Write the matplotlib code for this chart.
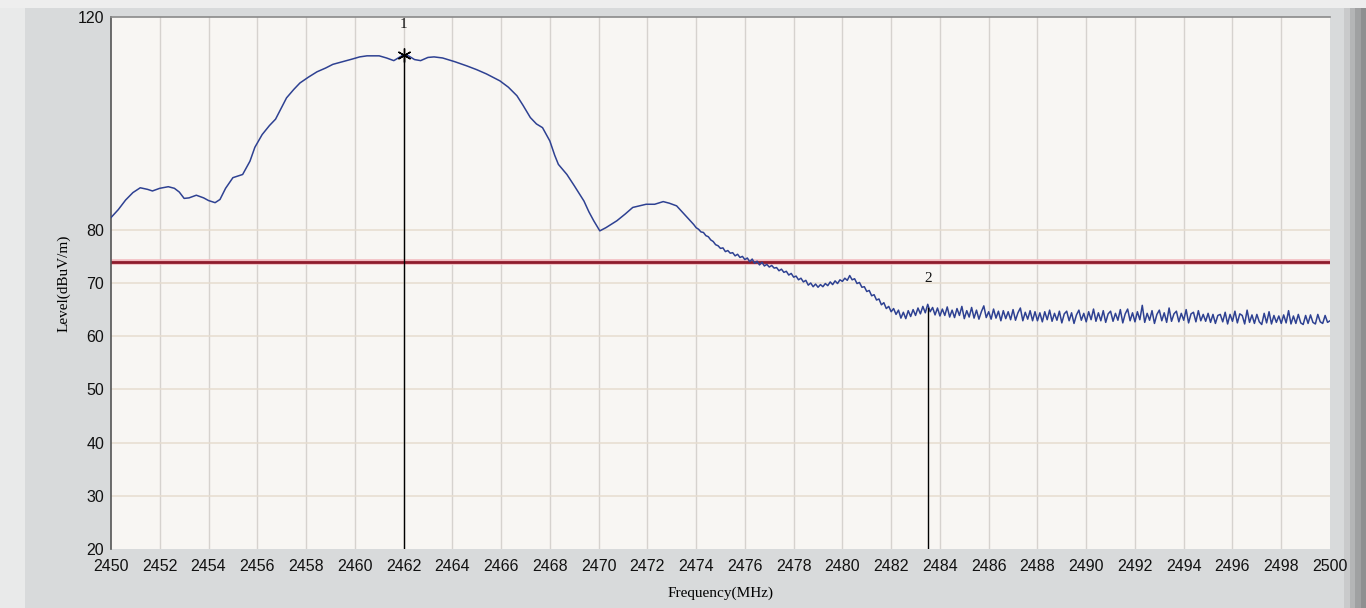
import numpy as np
import matplotlib
matplotlib.use("Agg")
import matplotlib.pyplot as plt
from matplotlib.patches import Rectangle

# ---------------- data ----------------
# smooth part of the trace (MHz, dBuV/m)
smooth_freq = [2450.0, 2450.3, 2450.6, 2450.9, 2451.2, 2451.5, 2451.7, 2452.0, 2452.35, 2452.6,
               2452.8, 2453.0, 2453.2, 2453.5, 2453.8, 2454.0, 2454.27, 2454.47, 2454.7, 2455.0,
               2455.4, 2455.7, 2455.9, 2456.2, 2456.5, 2456.75, 2457.0, 2457.2, 2457.5, 2457.75,
               2458.1, 2458.45, 2458.8, 2459.1, 2459.5, 2459.9, 2460.2, 2460.5, 2461.0, 2461.3,
               2461.6, 2461.85, 2462.0, 2462.2, 2462.45, 2462.7, 2463.0, 2463.25, 2463.6, 2464.1,
               2464.6, 2465.0, 2465.4, 2465.95, 2466.3, 2466.65, 2466.9, 2467.2, 2467.45, 2467.7,
               2468.0, 2468.2, 2468.35, 2468.7, 2469.0, 2469.4, 2469.6, 2469.8, 2470.05, 2470.3,
               2470.75, 2471.1, 2471.4, 2471.95, 2472.3, 2472.65, 2472.9, 2473.2, 2473.5, 2473.9]
smooth_level = [82.3, 83.8, 85.6, 87.0, 87.9, 87.6, 87.3, 87.8, 88.1, 87.8,
                87.1, 85.9, 86.0, 86.5, 86.0, 85.5, 85.1, 85.7, 87.8, 89.8,
                90.4, 92.9, 95.5, 97.9, 99.6, 100.8, 103.0, 104.8, 106.4, 107.6,
                108.7, 109.7, 110.4, 111.1, 111.6, 112.1, 112.5, 112.7, 112.7, 112.3,
                111.8, 112.5, 112.9, 112.7, 112.0, 111.8, 112.4, 112.5, 112.3, 111.6,
                110.8, 110.1, 109.3, 108.0, 106.8, 105.2, 103.4, 101.1, 99.9, 99.2,
                96.7, 94.0, 92.3, 90.4, 88.3, 85.4, 83.4, 81.7, 79.8, 80.4,
                81.7, 83.0, 84.2, 84.8, 84.8, 85.3, 85.0, 84.5, 83.0, 81.0]

# noisy tail, one reading every 0.1 MHz from 2474.0 to 2500.0
tail_start_mhz = 2474.0
tail_step_mhz = 0.1
tail_level = [
    80.4, 80.1, 79.6, 79.5, 78.9, 78.7, 78.1, 77.8, 77.2, 77.0,
    76.5, 76.6, 75.9, 76.1, 75.6, 75.7, 75.1, 75.4, 74.8, 75.0,
    74.4, 74.7, 74.0, 74.5, 73.7, 74.1, 73.4, 73.9, 73.2, 73.5,
    73.0, 73.3, 72.8, 72.9, 72.3, 72.6, 72.0, 72.2, 71.5, 71.8,
    71.1, 71.3, 70.6, 70.9, 70.2, 70.5, 69.6, 70.0, 69.3, 69.8,
    69.2, 69.7, 69.3, 69.9, 69.5, 70.2, 69.7, 70.4, 69.9, 70.6,
    70.3, 70.9, 70.5, 71.4, 70.6, 70.8, 69.9, 70.1, 69.2, 69.3,
    68.4, 68.6, 67.6, 67.8, 66.8, 67.0, 65.9, 66.3, 65.2, 65.6,
    64.6, 65.2, 64.1, 64.9, 63.4, 64.5, 63.3, 64.8, 63.7, 65.0,
    63.9, 65.3, 64.2, 65.6, 64.4, 66.0, 64.6, 65.4, 64.0, 65.3,
    63.8, 65.1, 63.9, 65.5, 63.6, 64.9, 63.5, 65.2, 63.9, 65.6,
    63.3, 64.8, 63.6, 65.4, 63.4, 64.9, 63.2, 64.6, 65.7, 63.5,
    64.6, 63.2, 65.1, 63.4, 64.7, 62.9, 64.8, 63.3, 64.6, 63.1,
    65.0, 63.0, 64.4, 65.3, 62.9, 64.5, 63.2, 64.8, 62.9, 64.6,
    62.9, 64.4, 62.7, 64.6, 63.1, 64.9, 62.8, 64.3, 63.0, 64.7,
    62.5, 64.2, 64.7, 62.9, 64.4, 62.4, 64.0, 64.9, 63.0, 64.3,
    62.7, 64.6, 63.1, 65.1, 62.8, 64.4, 62.9, 64.8, 62.6, 64.2,
    64.7, 62.8, 64.3, 63.0, 65.0, 62.5, 64.2, 65.1, 62.9, 64.4,
    62.7, 64.6, 63.1, 65.8, 62.6, 64.3, 63.0, 64.8, 62.4, 64.1,
    64.9, 62.9, 64.4, 62.6, 65.3, 62.8, 64.2, 64.7, 62.7, 64.3,
    63.0, 65.0, 62.5, 64.2, 64.5, 62.7, 64.8, 62.9, 64.1, 62.8,
    64.3, 62.6, 64.1, 62.4, 63.9, 64.1, 62.7, 64.5, 62.3, 64.1,
    62.8, 64.7, 62.5, 64.2, 63.9, 62.3, 64.9, 62.6, 64.0, 62.4,
    64.1, 62.7, 62.2, 64.3, 62.5, 64.6, 62.3, 63.9, 62.6, 63.8,
    62.4, 64.0, 62.5, 64.8, 62.3, 63.8, 62.4, 64.1, 62.5, 62.2,
    63.9, 62.4, 64.0, 62.6, 62.3, 64.1, 62.7, 62.4, 63.9, 62.6,
    62.9]

limit_level = 74.0
marker_freq = [2462.0, 2483.5]
marker_level = [112.9, 65.3]
marker_names = ["1", "2"]

x_ticks = list(range(2450, 2501, 2))
y_ticks = [20, 30, 40, 50, 60, 70, 80, 120]
h_grid = [30, 40, 50, 60, 70, 80]

# ---------------- figure ----------------
tail_freq = tail_start_mhz + tail_step_mhz * np.arange(len(tail_level))
freq = np.concatenate([smooth_freq, tail_freq])
level = np.concatenate([smooth_level, tail_level])

W, H = 1366, 608
fig = plt.figure(figsize=(W / 100, H / 100), dpi=100)
fig.patch.set_facecolor("#d8dadb")
# window bevels
fig.patches.append(Rectangle((0, 0), 25 / W, 1, transform=fig.transFigure,
                             facecolor="#e9eaea", edgecolor="none", zorder=-5))
fig.patches.append(Rectangle((0, 1 - 8 / H), 1, 8 / H, transform=fig.transFigure,
                             facecolor="#eeeeee", edgecolor="none", zorder=-5))
for i, c in enumerate(["#c9cacb", "#b4b5b6", "#a0a1a2", "#8e8f90"]):
    fig.patches.append(Rectangle(((1344 + i * 5.5) / W, 0), 5.5 / W, 1 - 8 / H,
                                 transform=fig.transFigure, facecolor=c,
                                 edgecolor="none", zorder=-5))

ax = fig.add_axes([111 / W, 1 - 549 / H, (1330 - 111) / W, (549 - 17) / H])
ax.set_facecolor("#f8f6f3")
ax.set_xlim(2450, 2500)
ax.set_ylim(20, 120)

for x in x_ticks[1:-1]:
    ax.axvline(x, color="#d6d2ce", lw=1.0, zorder=1)
for y in h_grid:
    ax.axhline(y, color="#e6dccf", lw=1.1, zorder=1)

ax.axhline(limit_level, color="#f2b9be", lw=4.0, zorder=2)
ax.axhline(limit_level, color="#8e1b2c", lw=2.0, zorder=2)

ax.plot(freq, level, color="#2e4192", lw=1.1, zorder=3)

for f, v, name in zip(marker_freq, marker_level, marker_names):
    ax.plot([f, f], [20, v], color="black", lw=1.0, zorder=4)
    ax.text(f, v + 5.6, name, ha="center", va="center", fontsize=11,
            family="Liberation Serif", color="#111111", zorder=5)
ax.plot(marker_freq[0], marker_level[0], marker=(6, 2, 0), color="black",
        markersize=10, markeredgewidth=1.0, zorder=5)

ax.set_xticks(x_ticks)
ax.set_yticks(y_ticks)
ax.set_xticklabels([str(t) for t in x_ticks], family="Liberation Sans", fontsize=11.5)
ax.set_yticklabels([str(t) for t in y_ticks], family="Liberation Sans", fontsize=11.5)
ax.tick_params(axis="both", length=0, colors="#111111")
ax.tick_params(axis="x", pad=7)
ax.tick_params(axis="y", pad=5)

for s in ["right", "bottom"]:
    ax.spines[s].set_visible(False)
ax.spines["left"].set_color("#555555")
ax.spines["left"].set_linewidth(1.2)
ax.spines["top"].set_color("#8a8a8a")
ax.spines["top"].set_linewidth(1.2)

ax.set_xlabel("Frequency(MHz)", family="Liberation Serif", fontsize=11, labelpad=9)
ax.set_ylabel("Level(dBuV/m)", family="Liberation Serif", fontsize=11, labelpad=5)

fig.savefig("out.png", dpi=100, facecolor=fig.get_facecolor())
